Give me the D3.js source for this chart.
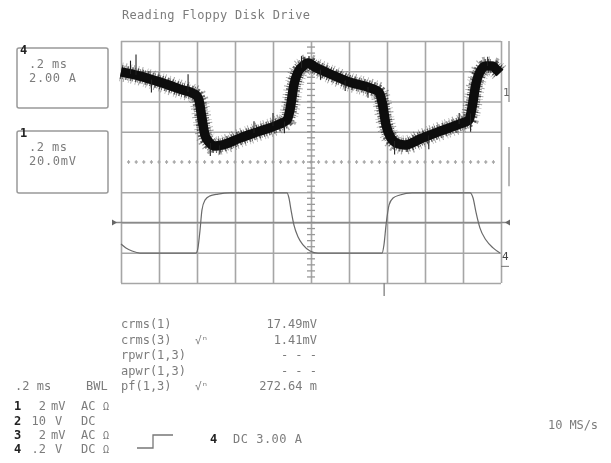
<!DOCTYPE html>
<html>
<head>
<meta charset="utf-8">
<script src="https://cdn.jsdelivr.net/npm/d3@7"></script>
<style>
  html, body { margin: 0; padding: 0; background: #fff; }
  svg { display: block; }
  text { font-family: "DejaVu Sans Mono", "Liberation Mono", monospace; fill: #7c7c7c; }
</style>
</head>
<body>
<svg id="scope" width="611" height="463"></svg>
<script>
// ---- Screen graticule: 10 horizontal x 8 vertical divisions, 0.2 ms/div ----
const timeDivs = [0, 0.2, 0.4, 0.6, 0.8, 1.0, 1.2, 1.4, 1.6, 1.8, 2.0];      // ms
const levelDivs = [-4, -3, -2, -1, 0, 1, 2, 3, 4];                          // divisions

// ---- Channel 1 (noisy current trace), centre of band, in divisions ----
const ch1Time  = [0, 0.10, 0.205, 0.31, 0.395, 0.41, 0.426, 0.442, 0.463, 0.495, 0.53, 0.626, 0.73, 0.837, 0.874,
                  0.889, 0.91, 0.932, 0.958, 0.984, 1.021, 1.10, 1.205, 1.31, 1.358, 1.374, 1.395, 1.421, 1.458,
                  1.495, 1.574, 1.679, 1.784, 1.832, 1.847, 1.868, 1.889, 1.921, 1.953, 1.979, 1.995];
const ch1Level = [2.98, 2.84, 2.64, 2.41, 2.21, 2.05, 1.45, 0.89, 0.66, 0.53, 0.56, 0.79, 1.02, 1.26, 1.39,
                  1.72, 2.55, 2.98, 3.17, 3.27, 3.14, 2.91, 2.64, 2.45, 2.31, 1.98, 1.22, 0.79, 0.60,
                  0.56, 0.76, 1.02, 1.26, 1.39, 1.79, 2.58, 2.98, 3.17, 3.17, 3.04, 2.94];
// isolated noise spikes on channel 1: time (ms), tip level (div)
const spikeTime  = [0.05, 0.079, 0.16, 0.353, 0.47, 0.52, 0.70, 0.80, 0.86, 0.95, 1.05, 1.18, 1.30, 1.44, 1.62, 1.78, 1.84, 1.93];
const spikeLevel = [3.35, 3.55, 2.30, 2.90, 0.20, 0.25, 1.35, 1.62, 0.95, 3.50, 2.72, 2.35, 2.12, 0.25, 0.42, 1.62, 1.00, 3.48];

// ---- Channel 4 (drive signal), in divisions ----
const ch4Time  = [0, 0.026, 0.058, 0.10, 0.395, 0.405, 0.416, 0.426, 0.442, 0.468, 0.51, 0.574, 0.874, 0.884,
                  0.895, 0.91, 0.932, 0.958, 0.995, 1.037, 1.374, 1.384, 1.395, 1.411, 1.432, 1.468, 1.532,
                  1.837, 1.853, 1.868, 1.889, 1.921, 1.958, 1.995];
const ch4Level = [-2.71, -2.84, -2.94, -3.01, -3.01, -2.84, -2.25, -1.59, -1.26, -1.12, -1.06, -1.02, -1.02, -1.19,
                  -1.59, -2.08, -2.48, -2.74, -2.94, -3.01, -3.01, -2.74, -2.08, -1.42, -1.19, -1.09, -1.02,
                  -1.02, -1.19, -1.65, -2.18, -2.58, -2.84, -3.01];

// ---- Readouts ----
const title = "Reading Floppy Disk Drive";
const measNames  = ["crms(1)", "crms(3)", "rpwr(1,3)", "apwr(1,3)", "pf(1,3)"];
const measFlags  = ["", "√ⁿ", "", "", "√ⁿ"];
const measValues = ["17.49mV", "1.41mV", "- - -", "- - -", "272.64 m"];
const chanIds    = ["1", "2", "3", "4"];
const chanScale  = ["2", "10", "2", ".2"];
const chanUnit   = ["mV", "V", "mV", "V"];
const chanCouple = ["AC", "DC", "AC", "DC"];
const chanGround = ["Ω", "", "Ω", "Ω"];

const svg = d3.select("#scope");
const defs = svg.append("defs");
defs.append("filter").attr("id", "soft").append("feGaussianBlur").attr("stdDeviation", 0.45);
const root = svg.append("g").attr("filter", "url(#soft)");

const x = d3.scaleLinear().domain([0, 2]).range([121, 501]);
const y = d3.scaleLinear().domain([-4, 4]).range([283, 41]);
const gridColor = "#a6a6a6";

// ---- graticule ----
const grid = root.append("g");
grid.append("g")
  .attr("transform", `translate(0,${y(-4)})`)
  .call(d3.axisBottom(x).tickValues(timeDivs).tickSize(-(y(-4) - y(4))).tickFormat(""))
  .call(g => g.select(".domain").remove())
  .call(g => g.selectAll("line").attr("stroke", gridColor).attr("stroke-width", 1.6));
grid.append("g")
  .attr("transform", `translate(${x(0)},0)`)
  .call(d3.axisLeft(y).tickValues(levelDivs.filter(v => v !== 0)).tickSize(-(x(2) - x(0))).tickFormat(""))
  .call(g => g.select(".domain").remove())
  .call(g => g.selectAll("line").attr("stroke", gridColor).attr("stroke-width", 1.6));

// centre horizontal: dashed minor marks
const minorT = d3.range(0, 2.0001, 0.04).filter(t => t > 0.001 && t < 1.999);
grid.append("g").selectAll("line").data(minorT).join("line")
  .attr("x1", d => x(d) - 1.5).attr("x2", d => x(d) + 1.5)
  .attr("y1", y(0)).attr("y2", y(0))
  .attr("stroke", gridColor).attr("stroke-width", 1.6);
grid.append("g").selectAll("line").data(minorT).join("line")
  .attr("x1", d => x(d)).attr("x2", d => x(d))
  .attr("y1", y(0) - 2).attr("y2", y(0) + 2)
  .attr("stroke", gridColor).attr("stroke-width", 1);
// centre vertical: minor ticks
const minorV = d3.range(-4, 4.0001, 0.2).filter(v => v > -3.999 && v < 3.999);
grid.append("g").selectAll("line").data(minorV).join("line")
  .attr("x1", x(1) - 4).attr("x2", x(1) + 4)
  .attr("y1", d => y(d)).attr("y2", d => y(d))
  .attr("stroke", "#999").attr("stroke-width", 1.3);

// channel 4 reference line with end markers
grid.append("line")
  .attr("x1", x(0) - 8).attr("x2", x(2) + 8)
  .attr("y1", y(-2)).attr("y2", y(-2))
  .attr("stroke", "#8a8a8a").attr("stroke-width", 1.6);
root.append("path").attr("d", `M${x(0) - 9},${y(-2) - 3}L${x(0) - 4},${y(-2)}L${x(0) - 9},${y(-2) + 3}Z`).attr("fill", "#666");
root.append("path").attr("d", `M${x(2) + 9},${y(-2) - 3}L${x(2) + 4},${y(-2)}L${x(2) + 9},${y(-2) + 3}Z`).attr("fill", "#666");

// trigger position marker below graticule
root.append("line").attr("x1", x(1.385)).attr("x2", x(1.385)).attr("y1", y(-4)).attr("y2", y(-4) + 13)
  .attr("stroke", "#888").attr("stroke-width", 1.4);

// right-edge channel markers
root.append("line").attr("x1", 509).attr("x2", 509).attr("y1", y(4)).attr("y2", y(1.98))
  .attr("stroke", "#999").attr("stroke-width", 1.4);
root.append("line").attr("x1", 509).attr("x2", 509).attr("y1", y(0.5)).attr("y2", y(-0.8))
  .attr("stroke", "#999").attr("stroke-width", 1.4);
root.append("text").attr("x", 503).attr("y", y(2.31) + 4).attr("font-size", 11).style("fill", "#666").text("1");
root.append("text").attr("x", 502).attr("y", y(-3.1) + 4).attr("font-size", 11).style("fill", "#444").text("4");
root.append("line").attr("x1", 501).attr("x2", 509).attr("y1", y(-3.45)).attr("y2", y(-3.45))
  .attr("stroke", "#777").attr("stroke-width", 1);

// ---- channel 4 trace ----
const ch4 = ch4Time.map((t, i) => [t, ch4Level[i]]);
root.append("path").datum(ch4)
  .attr("d", d3.line().x(d => x(d[0])).y(d => y(d[1])).curve(d3.curveMonotoneX))
  .attr("fill", "none").attr("stroke", "#6a6a6a").attr("stroke-width", 1.2);

// ---- channel 1 noisy trace: irregular hatched fringe + solid core ----
const ch1 = ch1Time.map((t, i) => [t, ch1Level[i]]);
const ch1Line = d3.line().x(d => x(d[0])).y(d => y(d[1])).curve(d3.curveMonotoneX);
const ch1Path = ch1Line(ch1);
root.append("path").attr("d", ch1Path)
  .attr("fill", "none").attr("stroke", "#222").attr("stroke-opacity", 0.4).attr("stroke-width", 19)
  .attr("stroke-dasharray", "0.7,2.9,1.1,4.3,0.6,1.9,0.9,3.7");
root.append("path").attr("d", ch1Path)
  .attr("fill", "none").attr("stroke", "#111").attr("stroke-opacity", 0.65).attr("stroke-width", 14)
  .attr("stroke-dasharray", "1.3,1.1,0.8,2.2,1.6,0.9,0.7,1.7");
root.append("path").attr("d", ch1Path)
  .attr("fill", "none").attr("stroke", "#0a0a0a").attr("stroke-width", 9.5).attr("stroke-linejoin", "round");
// base level of each spike sits on the band centre
const bandAt = d3.scaleLinear().domain(ch1Time).range(ch1Level);
root.append("g").selectAll("line").data(spikeTime.map((t, i) => [t, spikeLevel[i]])).join("line")
  .attr("x1", d => x(d[0])).attr("x2", d => x(d[0]))
  .attr("y1", d => y(bandAt(d[0]))).attr("y2", d => y(d[1]))
  .attr("stroke", "#222").attr("stroke-width", 1.1);

// ---- labels ----
root.append("text").attr("x", 122).attr("y", 19).attr("font-size", 12).attr("textLength", 188).text(title);

// scale boxes on the left
function box(top, bottom, mark, line1, line2) {
  root.append("rect").attr("x", 17).attr("y", top).attr("width", 91).attr("height", bottom - top)
    .attr("rx", 2).attr("fill", "none").attr("stroke", "#999").attr("stroke-width", 1.5);
  root.append("text").attr("x", 20).attr("y", top + 6).attr("font-size", 12).attr("font-weight", "bold")
    .style("fill", "#222").text(mark);
  root.append("text").attr("x", 29).attr("y", top + 20).attr("font-size", 12).attr("textLength", 38).text(line1);
  root.append("text").attr("x", 29).attr("y", top + 34).attr("font-size", 12).attr("textLength", 47).text(line2);
}
box(48, 108, "4", ".2 ms", "2.00 A");
box(131, 193, "1", ".2 ms", "20.0mV");

// measurement readouts
const measY = [328, 343.5, 359, 374.5, 390];
measNames.forEach((n, i) => {
  root.append("text").attr("x", 121).attr("y", measY[i]).attr("font-size", 12).text(n);
  if (measFlags[i]) root.append("text").attr("x", 195).attr("y", measY[i]).attr("font-size", 11).text(measFlags[i]);
  root.append("text").attr("x", 317).attr("y", measY[i]).attr("font-size", 12).attr("text-anchor", "end").text(measValues[i]);
});
root.append("text").attr("x", 15).attr("y", 390).attr("font-size", 12).text(".2 ms");
root.append("text").attr("x", 86).attr("y", 390).attr("font-size", 12).text("BWL");

// channel settings
const chanY = [410, 424.5, 438.5, 452.5];
chanIds.forEach((c, i) => {
  root.append("text").attr("x", 14).attr("y", chanY[i]).attr("font-size", 12).attr("font-weight", "bold").style("fill", "#222").text(c);
  root.append("text").attr("x", 46).attr("y", chanY[i]).attr("font-size", 12).attr("text-anchor", "end").text(chanScale[i]);
  root.append("text").attr("x", chanUnit[i] === "V" ? 55 : 51).attr("y", chanY[i]).attr("font-size", 12).text(chanUnit[i]);
  root.append("text").attr("x", 81).attr("y", chanY[i]).attr("font-size", 12).text(chanCouple[i]);
  if (chanGround[i]) root.append("text").attr("x", 103).attr("y", chanY[i]).attr("font-size", 10).text(chanGround[i]);
});

// trigger readout
root.append("path").attr("d", "M137,448H153V435H173").attr("fill", "none").attr("stroke", "#777").attr("stroke-width", 1.3);
root.append("text").attr("x", 210).attr("y", 443).attr("font-size", 12).attr("font-weight", "bold").style("fill", "#222").text("4");
root.append("text").attr("x", 233).attr("y", 443).attr("font-size", 12).attr("textLength", 69).text("DC 3.00 A");
root.append("text").attr("x", 548).attr("y", 429).attr("font-size", 12).attr("textLength", 50).text("10 MS/s");
</script>
</body>
</html>
